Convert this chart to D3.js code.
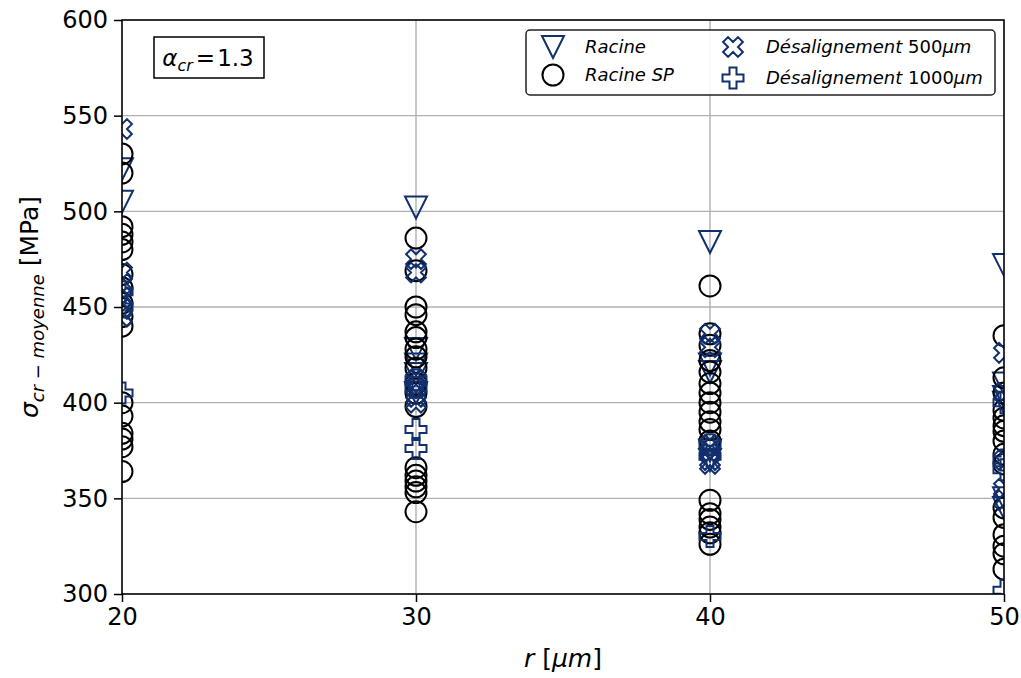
<!DOCTYPE html>
<html><head><meta charset="utf-8">
<script src="https://cdn.jsdelivr.net/npm/d3@7"></script>
<style>body{margin:0;background:#fff} svg{display:block}</style>
</head><body>
<script>
// ---- data ----
const rValues = [20, 30, 40, 50];
const xTicks = [20, 30, 40, 50];
const yTicks = [300, 350, 400, 450, 500, 550, 600];
// values per r (index matches rValues)
const racine = [
  [522, 505],
  [502, 428, 420, 415, 405],
  [484, 420, 416, 375, 370],
  [472, 410, 403, 400, 350, 345]
];
const racineSP = [
  [530, 520, 492, 488, 484, 480, 467, 460, 452, 445, 440, 400, 393, 384, 381, 377, 364],
  [486, 469, 450, 446, 437, 434, 428, 424, 418, 410, 405, 398, 366, 362, 359, 356, 353, 343],
  [461, 436, 430, 422, 416, 410, 405, 400, 395, 390, 386, 380, 349, 342, 339, 335, 332, 326],
  [435, 413, 405, 396, 392, 388, 385, 380, 373, 368, 345, 340, 331, 325, 321, 313]
];
const desal500 = [
  [543, 468, 462, 455, 449, 445],
  [475, 468, 412, 408, 403, 400],
  [436, 429, 378, 374, 370, 368],
  [426, 405, 370, 355, 349]
];
const desal1000 = [
  [458, 450, 405],
  [412, 408, 386, 376],
  [378, 372, 330],
  [400, 370, 365, 302]
];
const seriesNames = ["Racine", "Racine SP", "Désalignement 500µm", "Désalignement 1000µm"];

// ---- layout ----
const W = 1021, H = 678;
const L = 122, R = 1004, T = 20, B = 594;
const navy = "#12306e";
const font = "DejaVu Sans, Liberation Sans, sans-serif";

const svg = d3.select("body").append("svg").attr("width", W).attr("height", H);
const x = d3.scaleLinear().domain([20, 50]).range([L, R]);
const y = d3.scaleLinear().domain([300, 600]).range([B, T]);

// grid
const g = svg.append("g");
g.selectAll(".gx").data(xTicks).join("line")
  .attr("x1", d => x(d)).attr("x2", d => x(d)).attr("y1", T).attr("y2", B)
  .attr("stroke", "#b0b0b0").attr("stroke-width", 1.4);
g.selectAll(".gy").data(yTicks).join("line")
  .attr("y1", d => y(d)).attr("y2", d => y(d)).attr("x1", L).attr("x2", R)
  .attr("stroke", "#b0b0b0").attr("stroke-width", 1.4);

// marker paths
const ms = 21;
function circlePath(s){ const r=s/2; return `M${r},0A${r},${r} 0 1,1 ${-r},0A${r},${r} 0 1,1 ${r},0Z`; }
function triPath(s){ const h=s/2; return `M0,${h}L${-h},${-h}L${h},${-h}Z`; }
const plusPts = [[-1,-3],[1,-3],[1,-1],[3,-1],[3,1],[1,1],[1,3],[-1,3],[-1,1],[-3,1],[-3,-1],[-1,-1]];
function polyPath(pts, s, rot){
  const c=Math.cos(rot), sn=Math.sin(rot);
  return "M" + pts.map(([a,b]) => { const px=a*s/6, py=b*s/6; return [(px*c-py*sn).toFixed(2),(px*sn+py*c).toFixed(2)].join(","); }).join("L") + "Z";
}
const shapes = [
  {name: seriesNames[0], data: racine, path: triPath(22), color: navy},
  {name: seriesNames[1], data: racineSP, path: circlePath(ms), color: "#000"},
  {name: seriesNames[2], data: desal500, path: polyPath(plusPts, ms, Math.PI/4), color: navy},
  {name: seriesNames[3], data: desal1000, path: polyPath(plusPts, ms, 0), color: navy}
];

svg.append("clipPath").attr("id", "clip").append("rect")
  .attr("x", L).attr("y", T).attr("width", R - L).attr("height", B - T);
const plot = svg.append("g").attr("clip-path", "url(#clip)");
shapes.forEach(s => {
  const pts = [];
  s.data.forEach((vals, i) => vals.forEach(v => pts.push([rValues[i], v])));
  plot.append("g").selectAll("path").data(pts).join("path")
    .attr("d", s.path)
    .attr("transform", d => `translate(${x(d[0])},${y(d[1])})`)
    .attr("fill", "none").attr("stroke", s.color).attr("stroke-width", 2);
});

// axes
const xAxis = svg.append("g").attr("transform", `translate(0,${B})`)
  .call(d3.axisBottom(x).tickValues(xTicks).tickSize(8).tickPadding(6).tickFormat(d3.format("d")));
const yAxis = svg.append("g").attr("transform", `translate(${L},0)`)
  .call(d3.axisLeft(y).tickValues(yTicks).tickSize(8).tickPadding(6).tickFormat(d3.format("d")));
[xAxis, yAxis].forEach(a => {
  a.select(".domain").remove();
  a.selectAll(".tick line").attr("stroke", "#000").attr("stroke-width", 1.5);
  a.selectAll(".tick text").attr("font-family", font).attr("font-size", 24).attr("fill", "#000");
});
// spines
svg.append("rect").attr("x", L).attr("y", T).attr("width", R - L).attr("height", B - T)
  .attr("fill", "none").attr("stroke", "#000").attr("stroke-width", 1.5);

// x label
const xl = svg.append("text").attr("x", (L + R) / 2).attr("y", 667).attr("text-anchor", "middle")
  .attr("font-family", font).attr("font-size", 25);
xl.append("tspan").attr("font-style", "italic").text("r");
xl.append("tspan").text(" [");
xl.append("tspan").attr("font-style", "italic").text("µm");
xl.append("tspan").text("]");

// y label
const yl = svg.append("text").attr("transform", `translate(38,${(T + B) / 2}) rotate(-90)`)
  .attr("text-anchor", "middle").attr("font-family", font).attr("font-size", 25);
yl.append("tspan").attr("font-style", "italic").text("σ");
yl.append("tspan").attr("font-style", "italic").attr("font-size", 18).attr("dy", 6).text("cr − moyenne");
yl.append("tspan").attr("dy", -6).text(" [MPa]");

// annotation
svg.append("rect").attr("x", 154).attr("y", 37).attr("width", 110).attr("height", 41)
  .attr("fill", "#fff").attr("stroke", "#000").attr("stroke-width", 1.5);
const an = svg.append("text").attr("x", 208).attr("y", 66).attr("text-anchor", "middle")
  .attr("font-family", font).attr("font-size", 23);
an.append("tspan").attr("font-style", "italic").text("α");
an.append("tspan").attr("font-style", "italic").attr("font-size", 16).attr("dy", 5).text("cr");
an.append("tspan").attr("dy", -5).attr("dx", 3).text("=");
an.append("tspan").attr("dx", 2).text("1.3");

// legend
const lg = svg.append("g");
lg.append("rect").attr("x", 526).attr("y", 30).attr("width", 469).attr("height", 65).attr("rx", 4)
  .attr("fill", "#fff").attr("fill-opacity", 0.9).attr("stroke", "#222").attr("stroke-width", 1.5);
const legPos = [[553, 47, 585], [553, 75, 585], [733, 47, 766], [733, 78, 766]];
shapes.forEach((s, i) => {
  const [mx, my, tx] = legPos[i];
  lg.append("path").attr("d", s.path).attr("transform", `translate(${mx},${my})`)
    .attr("fill", "none").attr("stroke", s.color).attr("stroke-width", 2);
  const t = lg.append("text").attr("x", tx).attr("y", my + 6).attr("font-family", font).attr("font-size", 18);
  if (i < 2) {
    t.append("tspan").attr("font-style", "italic").text(s.name);
  } else {
    const parts = s.name.match(/^(\S+) (\d+)(µm)$/);
    t.append("tspan").attr("font-style", "italic").text(parts[1]);
    t.append("tspan").text(" " + parts[2]);
    t.append("tspan").attr("font-style", "italic").text(parts[3]);
  }
});
</script>
</body></html>
